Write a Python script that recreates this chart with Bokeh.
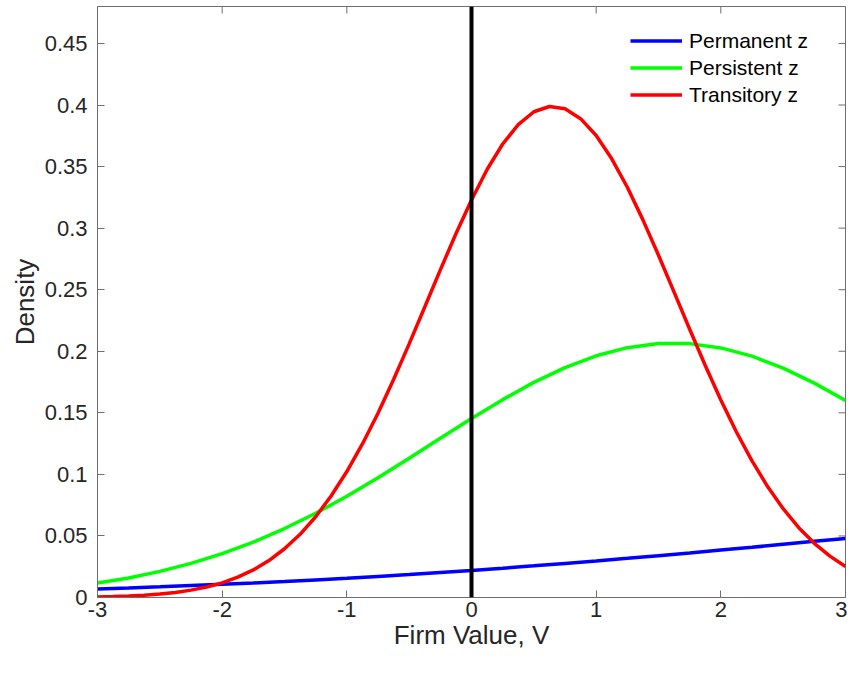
import math

from bokeh.embed import file_html
from bokeh.models import FixedTicker, Range1d, Span
from bokeh.plotting import figure
from bokeh.resources import INLINE

FONT = "Liberation Sans"
AXIS_COLOR = "#6e6e6e"
TEXT_COLOR = "#262626"

# transitory z, read on a finer grid because of its sharp peak
x_fine = [
    -3.0, -2.875, -2.75, -2.625, -2.5, -2.375, -2.25, -2.125,
    -2.0, -1.875, -1.75, -1.625, -1.5, -1.375, -1.25, -1.125,
    -1.0, -0.875, -0.75, -0.625, -0.5, -0.375, -0.25, -0.125,
    0.0, 0.125, 0.25, 0.375, 0.5, 0.625, 0.75, 0.875,
    1.0, 1.125, 1.25, 1.375, 1.5, 1.625, 1.75, 1.875,
    2.0, 2.125, 2.25, 2.375, 2.5, 2.625, 2.75, 2.875, 3.0,
]
transitory = [
    0.0005, 0.0008, 0.0012, 0.0019, 0.0028, 0.0041, 0.0060, 0.0085,
    0.0119, 0.0165, 0.0224, 0.0300, 0.0396, 0.0513, 0.0656, 0.0826,
    0.1023, 0.1247, 0.1497, 0.1770, 0.2060, 0.2359, 0.2661, 0.2954,
    0.3229, 0.3476, 0.3683, 0.3841, 0.3945, 0.3988, 0.3969, 0.3889,
    0.3752, 0.3563, 0.3332, 0.3067, 0.2780, 0.2480, 0.2179, 0.1884,
    0.1604, 0.1344, 0.1109, 0.0901, 0.0721, 0.0567, 0.0440, 0.0336, 0.0252,
]

x_coarse = [
    -3.0, -2.75, -2.5, -2.25, -2.0, -1.75, -1.5, -1.25, -1.0, -0.75, -0.5, -0.25,
    0.0, 0.25, 0.5, 0.75, 1.0, 1.25, 1.5, 1.75, 2.0, 2.25, 2.5, 2.75, 3.0,
]
permanent = [
    0.0070, 0.0078, 0.0087, 0.0097, 0.0107, 0.0118, 0.0130, 0.0143, 0.0156,
    0.0171, 0.0186, 0.0203, 0.0220, 0.0238, 0.0257, 0.0277, 0.0297, 0.0318,
    0.0340, 0.0362, 0.0385, 0.0408, 0.0432, 0.0456, 0.0479,
]
persistent = [
    0.0118, 0.0159, 0.0212, 0.0277, 0.0356, 0.0450, 0.0560, 0.0684, 0.0823,
    0.0973, 0.1131, 0.1293, 0.1453, 0.1607, 0.1747, 0.1867, 0.1963, 0.2029,
    0.2063, 0.2062, 0.2027, 0.1960, 0.1863, 0.1741, 0.1601,
]

x_min, x_max = -3, 3
y_min, y_max = 0, 0.48
x_ticks = [-3, -2, -1, 0, 1, 2, 3]
x_tick_labels = ["-3", "-2", "-1", "0", "1", "2", "3"]
y_ticks = [0, 0.05, 0.1, 0.15, 0.2, 0.25, 0.3, 0.35, 0.4, 0.45]
y_tick_labels = ["0", "0.05", "0.1", "0.15", "0.2", "0.25", "0.3", "0.35", "0.4", "0.45"]


def style_axis(ax, ticks, labels):
    ax.ticker = FixedTicker(ticks=ticks)
    ax.major_label_overrides = {t: s for t, s in zip(ticks, labels)}
    ax.axis_line_color = AXIS_COLOR
    ax.major_tick_line_color = AXIS_COLOR
    ax.major_tick_in = 7
    ax.major_tick_out = 0
    ax.minor_tick_line_color = None
    ax.major_label_text_font = FONT
    ax.major_label_text_color = TEXT_COLOR
    ax.major_label_text_font_size = "22px"
    ax.axis_label_text_font = FONT
    ax.axis_label_text_color = TEXT_COLOR
    ax.axis_label_text_font_style = "normal"
    ax.axis_label_text_font_size = "26px"


p = figure(
    width=847,
    height=659,
    x_range=Range1d(x_min, x_max),
    y_range=Range1d(y_min, y_max),
    output_backend="svg",
    toolbar_location=None,
    min_border_left=97,
    min_border_right=2,
    min_border_top=6,
    min_border_bottom=62,
)
p.background_fill_color = "white"
p.border_fill_color = "white"
p.outline_line_color = AXIS_COLOR
p.xgrid.visible = False
p.ygrid.visible = False

style_axis(p.xaxis[0], x_ticks, x_tick_labels)
style_axis(p.yaxis[0], y_ticks, y_tick_labels)
p.xaxis[0].axis_label = "Firm Value, V"
p.xaxis[0].major_label_standoff = 4
p.xaxis[0].axis_label_standoff = 0
p.yaxis[0].axis_label = "Density"
p.yaxis[0].major_label_standoff = 10
p.yaxis[0].axis_label_standoff = 2

# inward ticks on the right and top edges of the box, as in the original
p.ray(x=[x_max] * len(y_ticks), y=y_ticks, length=7, length_units="screen",
      angle=math.pi, line_color=AXIS_COLOR, line_width=1)
p.ray(x=x_ticks, y=[y_max] * len(x_ticks), length=7, length_units="screen",
      angle=-math.pi / 2, line_color=AXIS_COLOR, line_width=1)

p.line(x_coarse, permanent, line_color="#0000ff", line_width=3.5, legend_label="Permanent z")
p.line(x_coarse, persistent, line_color="#00ff00", line_width=3.5, legend_label="Persistent z")
p.line(x_fine, transitory, line_color="#ff0000", line_width=3.5, legend_label="Transitory z")

p.add_layout(Span(location=0, dimension="height", line_color="black", line_width=4))

leg = p.legend[0]
leg.location = (533, 490)
leg.border_line_color = None
leg.background_fill_alpha = 0
leg.padding = 0
leg.margin = 0
leg.spacing = 2
leg.glyph_width = 52
leg.glyph_height = 25
leg.label_height = 25
leg.label_standoff = 7
leg.label_text_font = FONT
leg.label_text_font_size = "21px"
leg.label_text_color = "black"

open("out.html", "w").write(file_html(p, INLINE))
